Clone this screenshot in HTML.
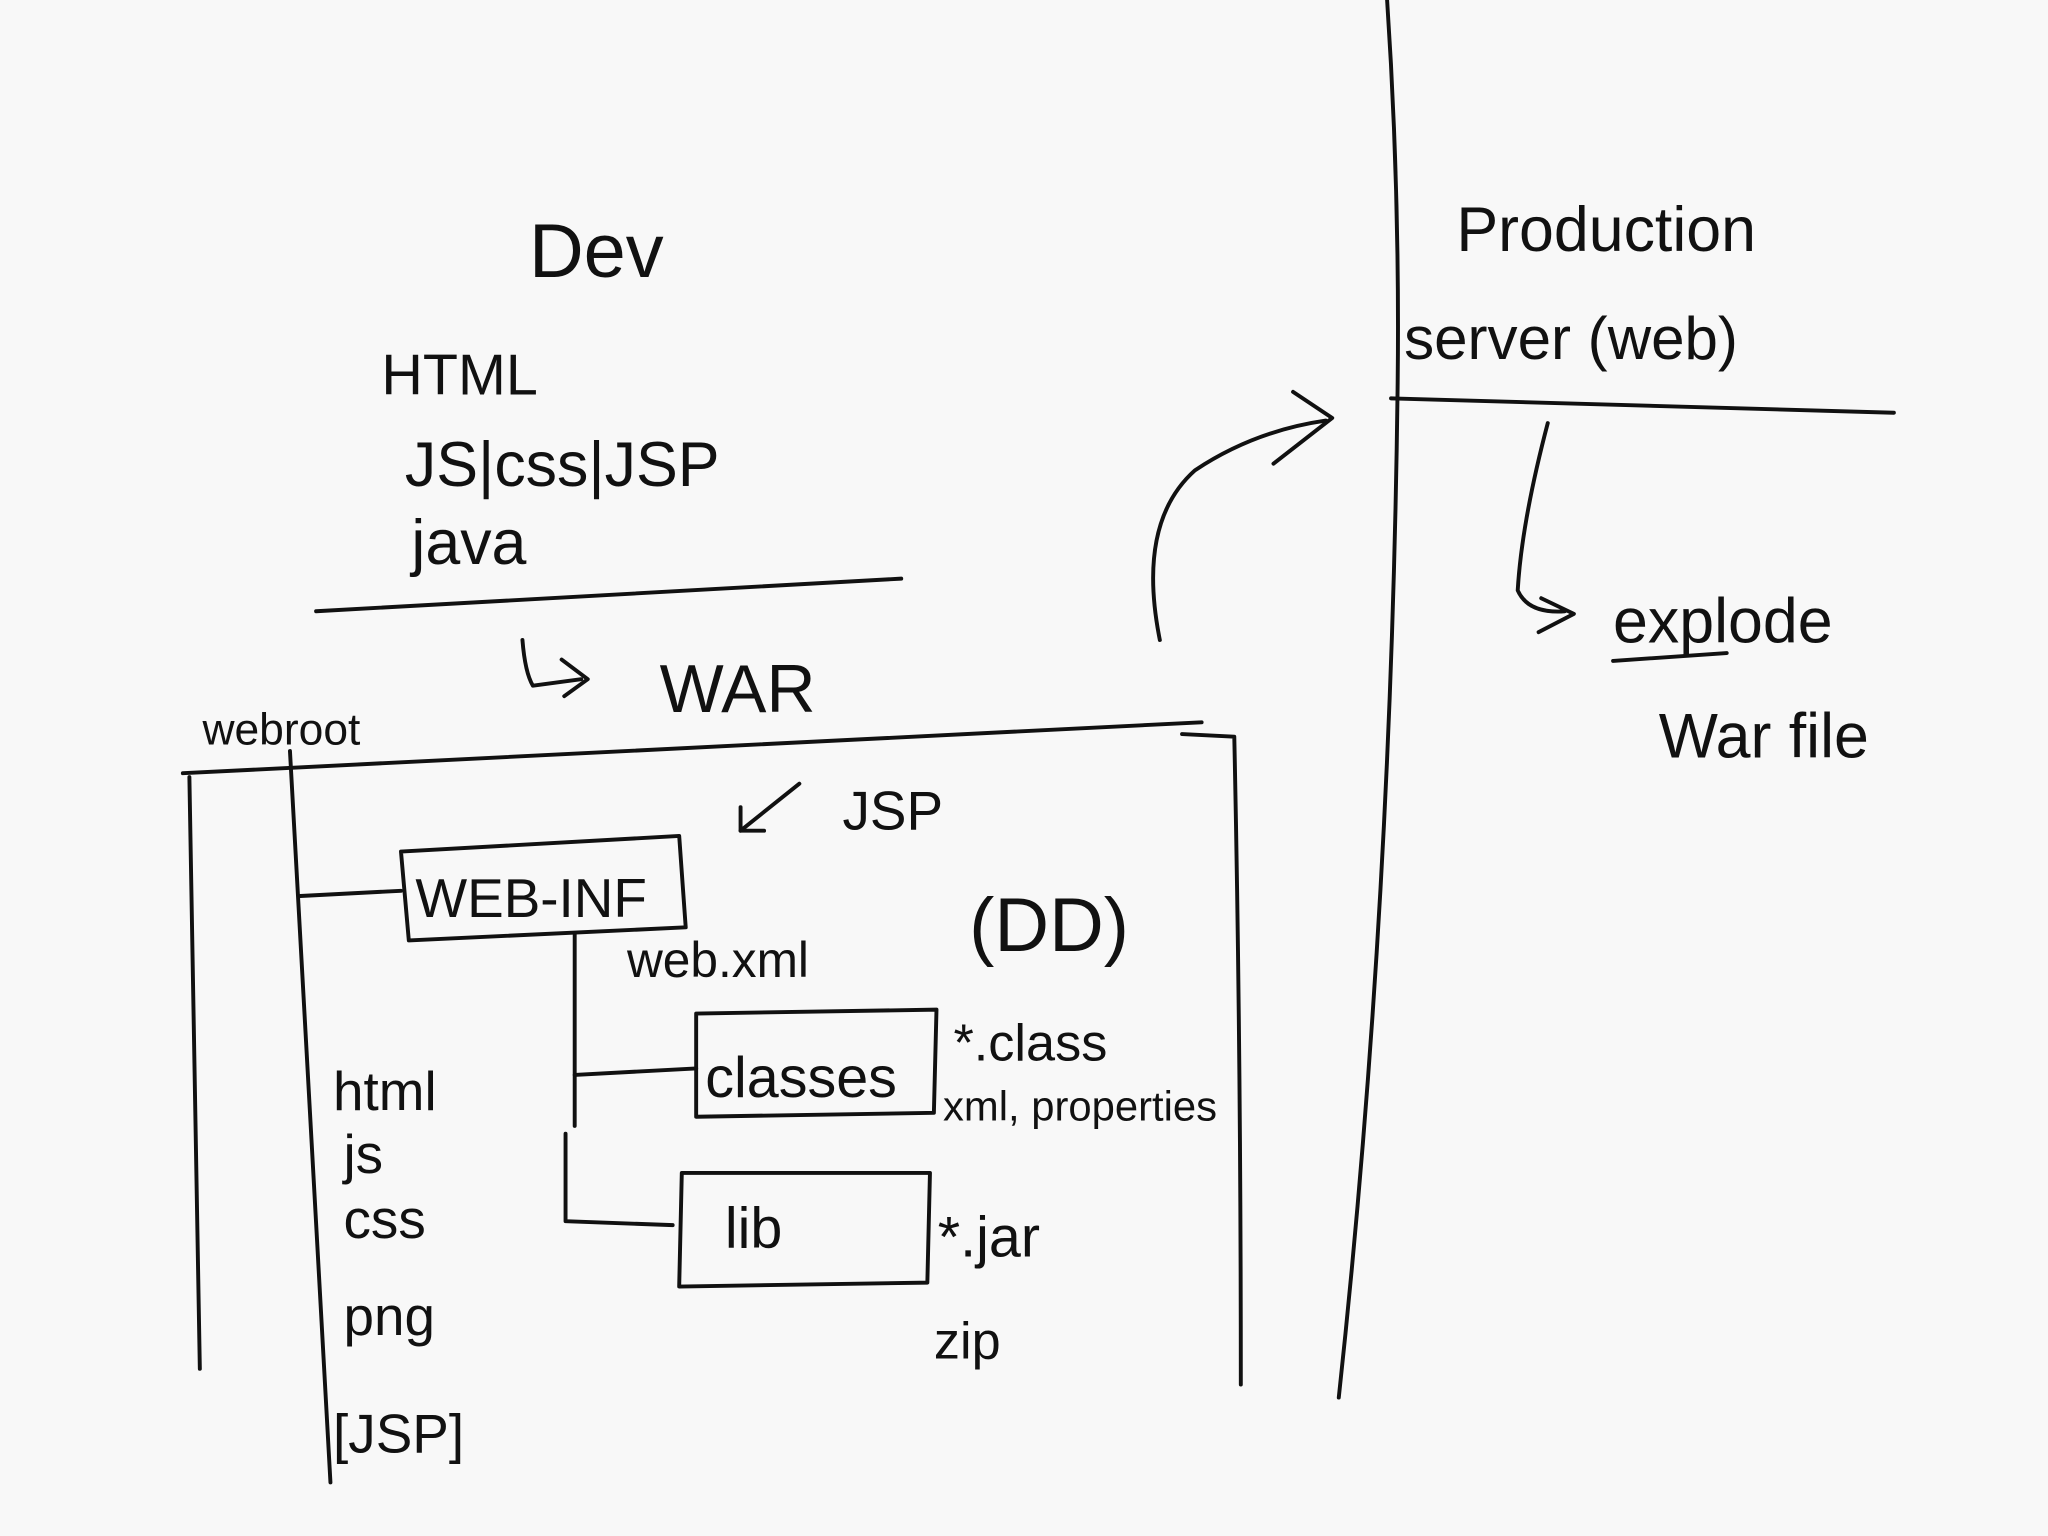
<!DOCTYPE html>
<html><head><meta charset="utf-8"><style>
html,body{margin:0;padding:0;background:#f8f8f8;}
svg{display:block;}
text{font-family:"Liberation Sans",sans-serif;fill:#111;}
</style></head><body>
<svg width="2048" height="1536" viewBox="0 0 1568 1176" xmlns="http://www.w3.org/2000/svg">
<rect width="1568" height="1176" fill="#f8f8f8"/>
<g fill="none" stroke="#111" stroke-width="3" stroke-linecap="round" stroke-linejoin="round">
<!-- right divider -->
<path d="M1062 0 Q1072 150 1070 300 Q1065 700 1025 1070"/>
<path d="M1065 305 L1450 316"/>
<path d="M1185 324 Q1165 400 1162 452 Q1170 470 1198 468"/>
<path d="M1180 458 L1205 470 L1178 484"/>
<path d="M1235 506 L1322 500"/>
<!-- curved arrow -->
<path d="M888 490 Q870 400 915 360 Q960 330 1015 322"/>
<path d="M990 300 L1020 320 L975 355"/>
<!-- dev underline -->
<path d="M242 468 L690 443"/>
<!-- WAR hook -->
<path d="M400 490 Q402 515 408 525 L445 520"/>
<path d="M430 505 L450 520 L432 533"/>
<!-- big box -->
<path d="M140 592 L920 553"/>
<path d="M905 562 L945 564 Q950 800 950 1060"/>
<path d="M145 595 L153 1048"/>
<!-- webroot vertical -->
<path d="M222 575 L253 1135"/>
<!-- WEB-INF -->
<path d="M307 652 L520 640 L525 710 L313 720 Z"/>
<path d="M230 686 L307 682"/>
<path d="M440 715 L440 862"/>
<path d="M433 868 L433 935 L515 938"/>
<!-- classes -->
<path d="M533 776 L717 773 L715 852 L533 855 Z"/>
<path d="M440 823 L533 818"/>
<!-- lib -->
<path d="M522 898 L712 898 L710 982 L520 985 Z"/>
<!-- JSP arrow -->
<path d="M612 600 L567 636"/>
<path d="M567 618 L567 636 L585 636"/>
</g>
<g font-weight="normal">
<text x="405" y="212" font-size="58">Dev</text>
<text x="292" y="302" font-size="44">HTML</text>
<text x="310" y="372" font-size="48">JS|css|JSP</text>
<text x="315" y="432" font-size="48">java</text>
<text x="505" y="545" font-size="52">WAR</text>
<text x="155" y="570" font-size="34">webroot</text>
<text x="645" y="635" font-size="42">JSP</text>
<text x="318" y="702" font-size="42">WEB-INF</text>
<text x="480" y="748" font-size="38">web.xml</text>
<text x="742" y="728" font-size="58">(DD)</text>
<text x="540" y="840" font-size="44">classes</text>
<text x="730" y="812" font-size="40">*.class</text>
<text x="722" y="858" font-size="32">xml, properties</text>
<text x="555" y="955" font-size="44">lib</text>
<text x="718" y="962" font-size="44">*.jar</text>
<text x="715" y="1040" font-size="40">zip</text>
<text x="255" y="850" font-size="42">html</text>
<text x="263" y="898" font-size="42">js</text>
<text x="263" y="948" font-size="42">css</text>
<text x="263" y="1022" font-size="42">png</text>
<text x="255" y="1112" font-size="42">[JSP]</text>
<text x="1115" y="192" font-size="48">Production</text>
<text x="1075" y="275" font-size="46">server (web)</text>
<text x="1235" y="492" font-size="48">explode</text>
<text x="1270" y="580" font-size="48">War file</text>
</g>
</svg>
</body></html>
